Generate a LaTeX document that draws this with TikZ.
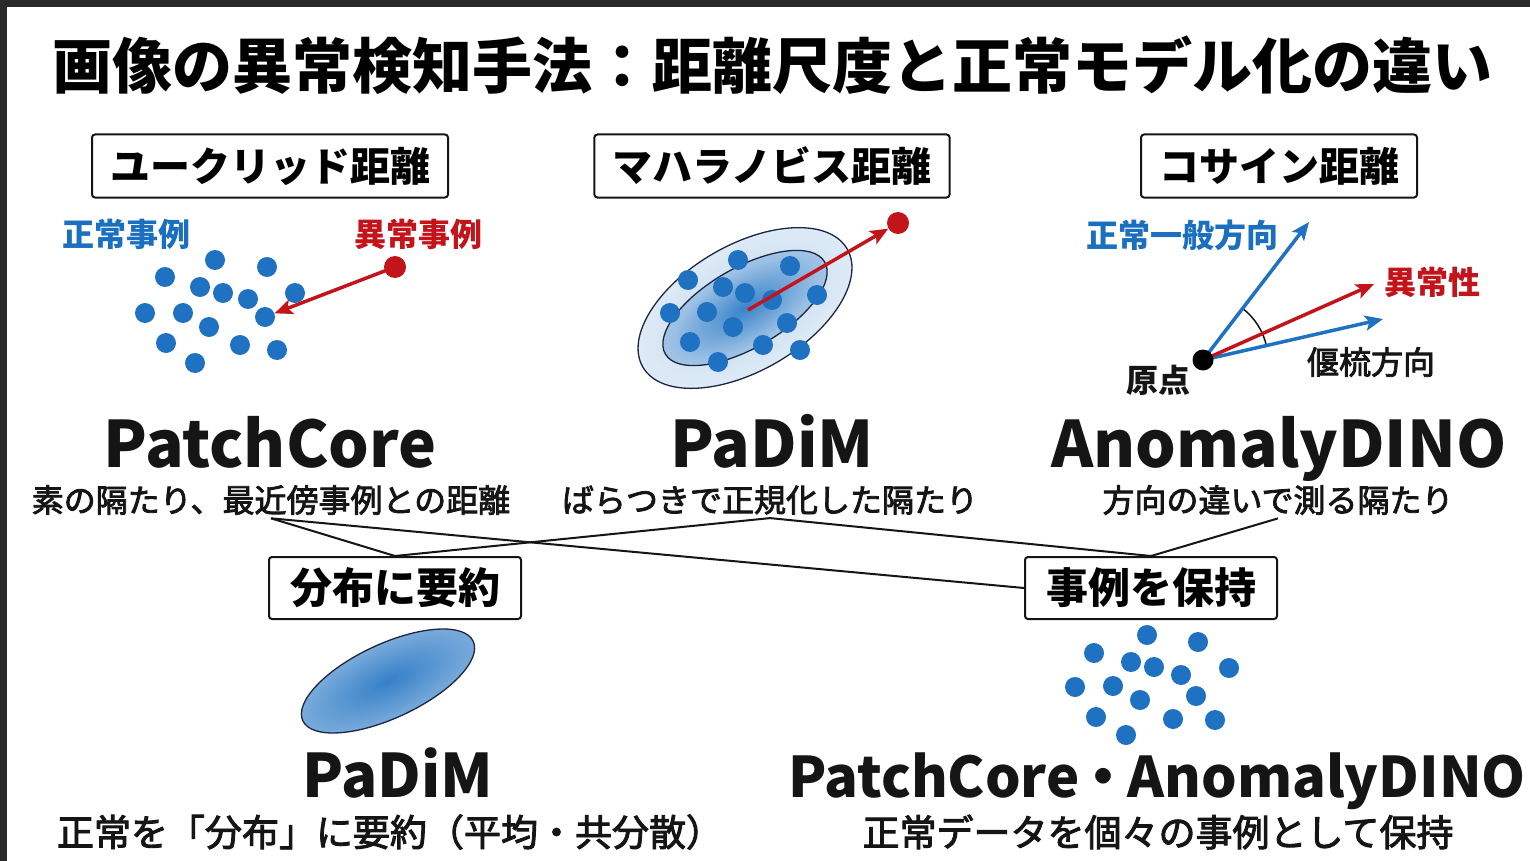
\documentclass[tikz,border=0pt]{standalone}
\usepackage{fontspec}
\setmainfont{Noto Sans CJK JP}
\newfontfamily\jpmed{Noto Sans CJK JP}[FakeBold=2.5]
\usetikzlibrary{arrows.meta,positioning}
\definecolor{tblue}{HTML}{1A6FBF}
\definecolor{dblue}{HTML}{1F72C2}
\definecolor{tred}{HTML}{C3141C}
\definecolor{ink}{HTML}{151515}
\definecolor{edge}{HTML}{1B2740}
\definecolor{framegray}{HTML}{2A2A2A}
\pgfdeclareradialshading{ringsh}{\pgfpoint{0bp}{0bp}}{color(0bp)=(dblue!28!white); color(30bp)=(dblue!12!white); color(50bp)=(dblue!4!white)}
\pgfdeclareradialshading{coresh}{\pgfpoint{0bp}{0bp}}{color(0bp)=(dblue!88!white); color(22bp)=(dblue!45!white); color(50bp)=(dblue!12!white)}
\pgfdeclareradialshading{distsh}{\pgfpoint{0bp}{0bp}}{color(0bp)=(dblue!90!white); color(25bp)=(dblue!60!white); color(50bp)=(dblue!36!white)}
\tikzset{
  headtxt/.style = {font=\fontsize{60}{66}\selectfont\bfseries, text=black},
  mbox/.style    = {draw=ink, line width=2pt, rounded corners=3pt, fill=white,
                    inner xsep=18pt, inner ysep=0pt, minimum height=63pt,
                    font=\fontsize{40}{40}\selectfont\bfseries},
  kbox/.style    = {mbox, inner xsep=21pt, minimum height=62pt,
                    font=\fontsize{42}{42}\selectfont\bfseries},
  lbl/.style     = {font=\fontsize{32}{32}\selectfont\bfseries},
  bluelbl/.style = {lbl, text=tblue},
  redlbl/.style  = {lbl, text=tred},
  algo/.style    = {anchor=base, text=ink, font=\fontsize{64}{64}\selectfont\bfseries},
  balgo/.style   = {algo, font=\fontsize{60}{60}\selectfont\bfseries},
  desc/.style    = {text=ink, font=\fontsize{32}{32}\selectfont\jpmed},
  bdesc/.style   = {text=ink, font=\fontsize{37}{37}\selectfont\jpmed},
  dot/.style     = {circle, fill=dblue, inner sep=0pt, minimum size=20pt},
  redot/.style   = {dot, fill=tred, minimum size=22pt},
  vec/.style     = {-{Stealth[length=18pt,width=15pt,inset=4pt]}, line width=3.5pt},
  link/.style    = {line width=2pt, draw=ink},
}
\begin{document}
\begin{tikzpicture}[x=1pt,y=-1pt]
  \useasboundingbox (0,0) rectangle (1530,861);
  \fill[framegray] (0,0) rectangle (1530,861);
  \fill[white] (7,7) rectangle (1530,861);

  \node[headtxt] (ttl) at (772,65) {画像の異常検知手法：距離尺度と正常モデル化の違い};

  % distance measures
  \node[mbox] (mEuc) at (270,166) {ユークリッド距離};
  \node[mbox] (mMah) at (772,166) {マハラノビス距離};
  \node[mbox] (mCos) at (1279,166) {コサイン距離};

  % euclid: nearest neighbour
  \node[bluelbl] (lNorm) at (126,234) {正常事例};
  \node[redlbl] (lAno) at (418,234) {異常事例};
  \foreach \x/\y [count=\i] in {215/260, 267/267, 165/277, 200/287, 223/293,
      248/299, 295/293, 145/313, 183/313, 265/317, 209/327, 166/343,
      240/345, 277/350, 195/363}
    {\node[dot] (pa\i) at (\x,\y) {};}
  \node[redot] (anoA) at (395,267) {};
  \draw[vec, tred] (anoA.center) -- (pa10);

  % mahalanobis: gaussian contours
  \begin{scope}[transform canvas={shift={(745,308)}, rotate=30}]
    \shade[shading=ringsh, draw=edge, line width=1.3pt] (0,0) ellipse [x radius=118, y radius=63];
    \shade[shading=coresh, draw=edge, line width=1.3pt] (0,0) ellipse [x radius=92, y radius=40];
  \end{scope}
  \coordinate (ellO) at (748,310);
  \foreach \x/\y [count=\i] in {738/260, 790/266, 688/280, 723/287, 745/293,
      772/300, 817/295, 670/313, 707/312, 733/327, 787/323, 690/342,
      763/345, 800/350, 718/362}
    {\node[dot] (pb\i) at (\x,\y) {};}
  \node[redot] (anoB) at (898,223) {};
  \draw[vec, tred] (ellO) -- (anoB);

  % cosine: directions from origin
  \coordinate (o) at (1203,360);
  \coordinate (cNorm) at (1309,222);
  \coordinate (cAno) at (1374,284);
  \coordinate (cDev) at (1383,319);
  \draw[line width=1.5pt, ink] (o) ++(-52.5:65) arc[start angle=-52.5, end angle=-12.6, radius=65];
  \draw[vec, dblue] (o) -- (cNorm);
  \draw[vec, dblue] (o) -- (cDev);
  \draw[vec, tred] (o) -- (cAno);
  \node[dot, fill=black, minimum size=21pt] (oDot) at (o) {};
  \node[bluelbl] (lGen) at (1182,235) {正常一般方向};
  \node[desc] (lDev) at (1371,362) {偃梳方向};
  \node[redlbl] (lAnoD) at (1432,282) {異常性};
  \node[lbl, text=ink] (lOrig) at (1158,380) {原点};

  % method names
  \node[algo] (nmPC) at (270,467) {PatchCore};
  \node[algo] (nmPD) at (772,467) {PaDiM};
  \node[algo] (nmAD) at (1279,467) {AnomalyDINO};
  \node[desc] (dPC) at (271,500) {素の隔たり、最近傍事例との距離};
  \node[desc] (dPD) at (770,500) {ばらつきで正規化した隔たり};
  \node[desc] (dAD) at (1278,500) {方向の違いで測る隔たり};

  % normal-data models
  \node[kbox] (kDist) at (395,588) {分布に要約};
  \node[kbox] (kInst) at (1151,588) {事例を保持};
  \draw[link] (dPC.south) -- (kDist.north);
  \draw[link] (dPC.south) -- (kInst.west);
  \draw[link] (dPD.south) -- (kDist.north);
  \draw[link] (dPD.south) -- (kInst.north);
  \draw[link] (dAD.south) -- (kInst.north);

  \begin{scope}[transform canvas={shift={(388,681)}, rotate=25}]
    \shade[shading=distsh, draw=edge, line width=1.3pt] (0,0) ellipse [x radius=94, y radius=37];
  \end{scope}
  \foreach \x/\y [count=\i] in {1147/635, 1198/642, 1094/653, 1131/662, 1154/667,
      1181/675, 1229/668, 1075/687, 1113/686, 1140/700, 1196/696, 1096/717,
      1173/719, 1215/720, 1126/735}
    {\node[dot] (pc\i) at (\x,\y) {};}

  \node[balgo] (nmPD2) at (398,797) {PaDiM};
  \node[balgo, font=\fontsize{56}{56}\selectfont\bfseries] (nmMix) at (1157,797) {PatchCore\kern-4pt・\kern-4ptAnomalyDINO};
  \node[bdesc] (dDist) at (390,832) {正常を「分布」に要約（平均・共分散）};
  \node[bdesc] (dInst) at (1158,832) {正常データを個々の事例として保持};
\end{tikzpicture}
\end{document}
